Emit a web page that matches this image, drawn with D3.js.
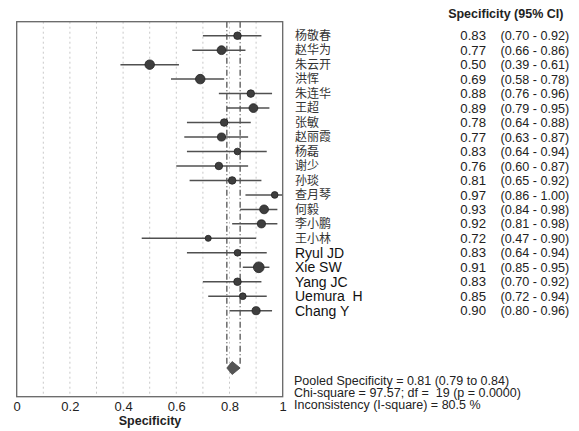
<!DOCTYPE html>
<html><head><meta charset="utf-8">
<script src="https://cdn.jsdelivr.net/npm/d3@7"></script>
<style>
body{margin:0;background:#fff;}
svg{display:block;font-family:"Liberation Sans",Arial,sans-serif;}
</style></head>
<body><svg id="c" width="579" height="431"></svg>
<script>
const studies = ["杨敬春","赵华为","朱云开","洪恽","朱连华","王超","张敏","赵丽霞","杨磊","谢少","孙琰","查月琴","何毅","李小鹏","王小林","Ryul JD","Xie SW","Yang JC","Uemura  H","Chang Y"];
const spec =  [0.83,0.77,0.50,0.69,0.88,0.89,0.78,0.77,0.83,0.76,0.81,0.97,0.93,0.92,0.72,0.83,0.91,0.83,0.85,0.90];
const lower = [0.70,0.66,0.39,0.58,0.76,0.79,0.64,0.63,0.64,0.60,0.65,0.86,0.84,0.81,0.47,0.64,0.85,0.70,0.72,0.80];
const upper = [0.92,0.86,0.61,0.78,0.96,0.95,0.88,0.87,0.94,0.87,0.92,1.00,0.98,0.98,0.90,0.94,0.95,0.92,0.94,0.96];
const weights = [1.4,1.9,2.2,2.2,1.4,1.9,1.4,1.6,1.1,1.4,1.4,1.1,1.9,1.6,0.9,1.1,2.8,1.4,1.1,1.6];
const pooled = {est:0.81, lo:0.79, hi:0.84};
const xTicks = [0,0.2,0.4,0.6,0.8,1];
const gridVals = [0.1,0.2,0.3,0.4,0.5,0.6,0.7,0.8,0.9];
const header = "Specificity (95% CI)";
const xTitle = "Specificity";
const summary = ["Pooled Specificity = 0.81 (0.79 to 0.84)","Chi-square = 97.57; df =  19 (p = 0.0000)","Inconsistency (I-square) = 80.5 %"];

const svg = d3.select("#c");
const L=16.7, R=282.7, T=21.7, B=396.7;
const x = d3.scaleLinear().domain([0,1]).range([L,R]);
const y = d3.scalePoint().domain(d3.range(studies.length)).range([35.7,310.7]);
const r = d3.scaleSqrt().domain([0,1]).range([0,3.2]);
const dY = 368;

// grid
svg.append("g").selectAll("line").data(gridVals).join("line")
  .attr("x1",d=>x(d)).attr("x2",d=>x(d)).attr("y1",T).attr("y2",B)
  .attr("stroke","#c8c8c8").attr("stroke-width",1).attr("stroke-dasharray","2,3");

// pooled CI dashed lines
svg.append("g").selectAll("line").data([pooled.lo,pooled.hi]).join("line")
  .attr("x1",d=>x(d)).attr("x2",d=>x(d)).attr("y1",T).attr("y2",dY-2)
  .attr("stroke","#555").attr("stroke-width",1.3).attr("stroke-dasharray","6,2.5,1,2.5");

// CI lines
const g = svg.append("g");
g.selectAll("line").data(studies).join("line")
  .attr("x1",(d,i)=>x(lower[i])).attr("x2",(d,i)=>x(upper[i]))
  .attr("y1",(d,i)=>y(i)).attr("y2",(d,i)=>y(i))
  .attr("stroke","#505050").attr("stroke-width",1.5);
g.selectAll("circle").data(studies).join("circle")
  .attr("cx",(d,i)=>x(spec[i])).attr("cy",(d,i)=>y(i)).attr("r",(d,i)=>r(weights[i]))
  .attr("fill","#3e3e3e").attr("stroke","#222").attr("stroke-width",0.8);

// diamond
svg.append("path")
  .attr("d",`M${x(pooled.lo)},${dY} L${x(pooled.est)},${dY-6.5} L${x(pooled.hi)},${dY} L${x(pooled.est)},${dY+6.5} Z`)
  .attr("fill","#555").attr("stroke","#444").attr("stroke-width",0.8);

// box
svg.append("rect").attr("x",L).attr("y",T).attr("width",R-L).attr("height",B-T)
  .attr("fill","none").attr("stroke","#666").attr("stroke-width",1.3);

// axis
const ax = svg.append("g").attr("transform",`translate(0,${B})`)
  .call(d3.axisBottom(x).tickValues(xTicks).tickSize(0).tickPadding(5).tickFormat(d=>d===0?"0":d===1?"1":d3.format(".1f")(d)));
ax.select(".domain").remove();
ax.selectAll("text").attr("font-size",13).attr("fill","#222").attr("font-family","Liberation Sans, Arial, sans-serif");
svg.append("text").attr("x",150).attr("y",425).attr("text-anchor","middle")
  .attr("font-size",12.5).attr("font-weight","bold").attr("fill","#222").text(xTitle);

// header
svg.append("text").attr("x",505.8).attr("y",18).attr("text-anchor","middle")
  .attr("font-size",12.5).attr("font-weight","bold").attr("fill","#222").text(header);

// names and values
const isCJK = s => /[\u4e00-\u9fff]/.test(s);
const t = svg.append("g");
t.selectAll("text.name").data(studies).join("text").attr("class","name")
  .attr("x",295).attr("y",(d,i)=>y(i)+ (isCJK(d)?4.3:5))
  .attr("font-size",d=>isCJK(d)?12:14)
  .attr("font-family",d=>isCJK(d)?"Noto Sans CJK SC, sans-serif":"Liberation Sans, Arial, sans-serif")
  .attr("fill",d=>isCJK(d)?"#333":"#111")
  .style("white-space","pre").attr("xml:space","preserve")
  .text(d=>d);
t.selectAll("text.val").data(studies).join("text").attr("class","val")
  .attr("x",486).attr("y",(d,i)=>y(i)+4.6).attr("text-anchor","end")
  .attr("font-size",13.2).attr("fill","#222").text((d,i)=>d3.format(".2f")(spec[i]));
t.selectAll("text.ci").data(studies).join("text").attr("class","ci")
  .attr("x",500.5).attr("y",(d,i)=>y(i)+4.6)
  .attr("font-size",12.6).attr("fill","#222")
  .text((d,i)=>`(${d3.format(".2f")(lower[i])} - ${d3.format(".2f")(upper[i])})`);

// summary
svg.append("g").selectAll("text").data(summary).join("text")
  .attr("x",294).attr("y",(d,i)=>385+i*12)
  .attr("font-size",12.5).attr("fill","#222").style("white-space","pre").attr("xml:space","preserve")
  .text(d=>d);
</script></body></html>
